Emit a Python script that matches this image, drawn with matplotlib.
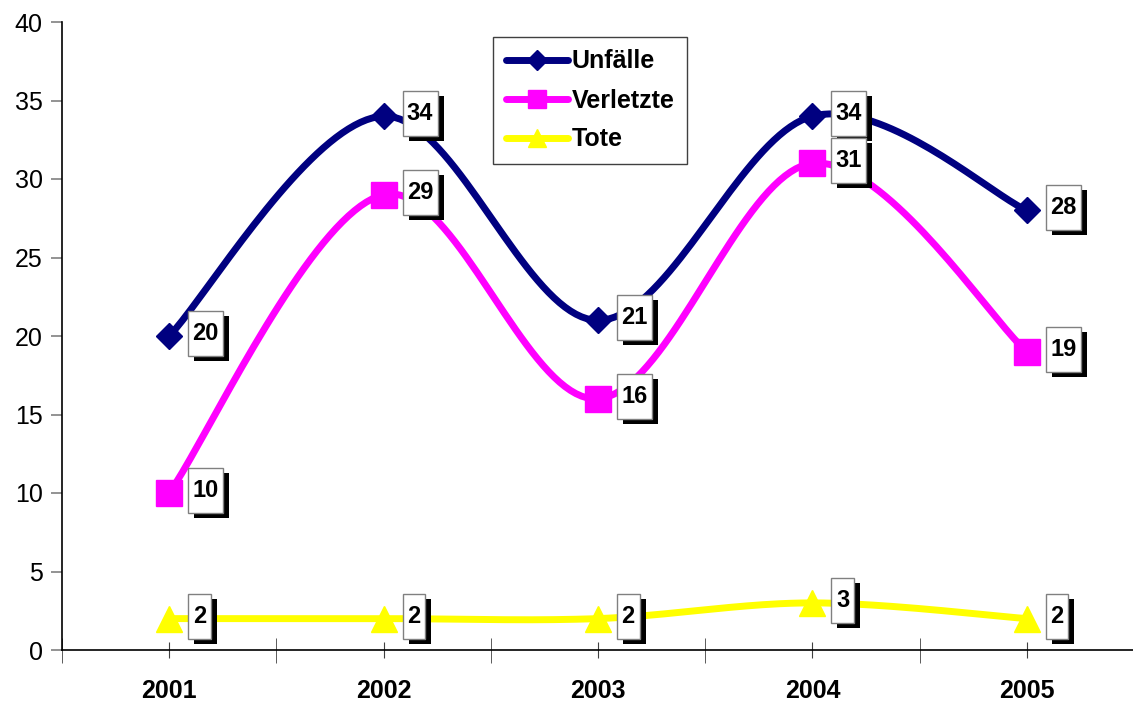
import matplotlib.pyplot as plt
import matplotlib.transforms as mtransforms
from matplotlib.patches import Rectangle
from matplotlib.ticker import FixedLocator
import numpy as np

plt.rcParams['font.family'] = ['Liberation Sans', 'DejaVu Sans']

# Daten
years = ['2001', '2002', '2003', '2004', '2005']
unfaelle = [20, 34, 21, 34, 28]
verletzte = [10, 29, 16, 31, 19]
tote = [2, 2, 2, 3, 2]


# Glatte Linie wie in Excel (Catmull-Rom / Bezier)
def smooth(xs, ys, n=40):
    pts = np.column_stack([xs, ys]).astype(float)
    out = []
    for i in range(len(pts) - 1):
        p0 = pts[i - 1] if i > 0 else pts[i]
        p1 = pts[i]
        p2 = pts[i + 1]
        p3 = pts[i + 2] if i + 2 < len(pts) else pts[i + 1]
        b1 = p1 + (p2 - p0) / 6
        b2 = p2 - (p3 - p1) / 6
        t = np.linspace(0, 1, n)[:, None]
        seg = ((1 - t) ** 3) * p1 + 3 * ((1 - t) ** 2) * t * b1 + 3 * (1 - t) * t ** 2 * b2 + t ** 3 * p2
        out.append(seg if i == 0 else seg[1:])
    seg = np.vstack(out)
    return seg[:, 0], seg[:, 1]


fig = plt.figure(figsize=(11.33, 7.04), dpi=100)
ax = fig.add_axes([62 / 1133, 54 / 704, 1072 / 1133, 628 / 704])

x = np.arange(len(years))
# name, werte, farbe, marker, markergroesse, markergroesse legende
series = [
    ('Unfälle', unfaelle, '#000080', 'D', 13.5, 10),
    ('Verletzte', verletzte, '#FF00FF', 's', 19, 13.5),
    ('Tote', tote, '#FFFF00', '^', 19, 13.5),
]

for name, vals, col, mk, ms, lms in series:
    sx, sy = smooth(x, vals)
    ax.plot(sx, sy, color=col, lw=5, solid_capstyle='round', zorder=2)
    ax.plot(x, vals, linestyle='none', marker=mk, markersize=ms, color=col, zorder=3)

# Datenbeschriftungen mit Schatten
for name, vals, col, mk, ms, lms in series:
    for xi, v in zip(x, vals):
        trans = fig.dpi_scale_trans + mtransforms.ScaledTranslation(xi, v, ax.transData)
        txt = str(v)
        w = (len(txt) * 12.5 + 10) / 100
        h = 0.45
        left = 0.19
        bottom = 0.025 - h / 2
        ax.add_patch(Rectangle((left + 0.06, bottom - 0.05), w, h, transform=trans,
                               facecolor='black', edgecolor='none', zorder=4, clip_on=False))
        ax.add_patch(Rectangle((left, bottom), w, h, transform=trans,
                               facecolor='white', edgecolor='#808080', lw=1, zorder=5, clip_on=False))
        ax.text(left + w / 2, 0.025, txt, transform=trans, ha='center', va='center',
                fontsize=17, fontweight='bold', zorder=6)

ax.set_xlim(-0.5, len(years) - 0.5)
ax.set_ylim(0, 40)
ax.set_yticks(np.arange(0, 41, 5))
ax.tick_params(axis='y', labelsize=18, direction='out', length=8, color='#808080', width=1.2, pad=6)
ax.set_xticks(x)
ax.set_xticklabels(years, fontsize=18, fontweight='bold')
ax.xaxis.set_minor_locator(FixedLocator(np.arange(-0.5, len(years), 1.0)))
ax.tick_params(axis='x', which='major', direction='inout', length=12, color='#404040', pad=15)
ax.tick_params(axis='x', which='minor', direction='inout', length=18, color='#404040')

for s in ['top', 'right']:
    ax.spines[s].set_visible(False)
ax.spines['left'].set_linewidth(1.2)
ax.spines['bottom'].set_linewidth(1.2)

leg = ax.legend([plt.Line2D([], [], color=c, lw=5, marker=m, markersize=lms, solid_capstyle='round')
                 for _, _, c, m, ms, lms in series],
                [s[0] for s in series],
                loc='upper left', bbox_to_anchor=(493 / 1133, 1 - 37 / 704),
                bbox_transform=fig.transFigure, borderaxespad=0, fancybox=False,
                edgecolor='#404040', framealpha=1, handlelength=2.5, handletextpad=0.15,
                labelspacing=0.6, borderpad=0.5,
                prop={'size': 18, 'weight': 'bold'})
leg.get_frame().set_linewidth(1)
leg.set_zorder(10)

fig.savefig('out.png', dpi=100)
